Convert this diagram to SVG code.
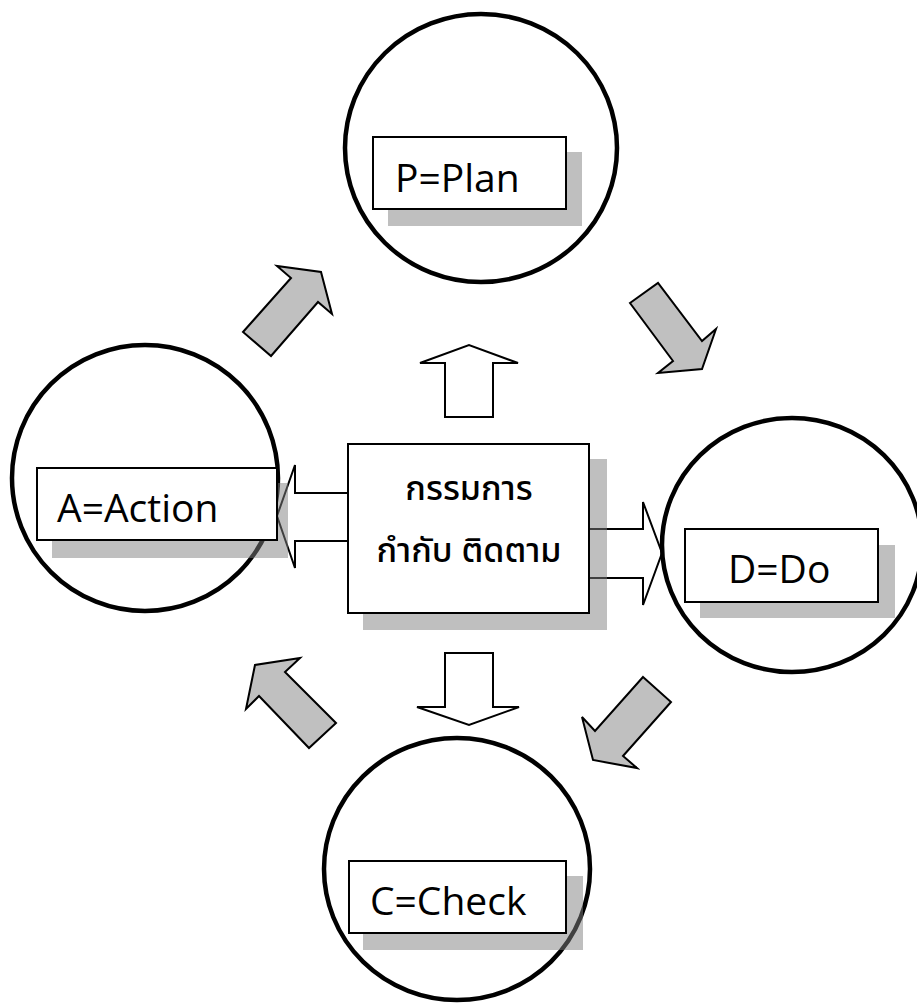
<svg xmlns="http://www.w3.org/2000/svg" width="917" height="1004" viewBox="0 0 917 1004">
<style>
.circ{fill:#fff;stroke:#000;stroke-width:4.5}
.box{fill:#fff;stroke:#000;stroke-width:2}
.shadow{fill:#808080;fill-opacity:0.5}
.lbl{font-family:"Open Sans","Noto Sans",sans-serif;font-size:39px;fill:#000}
.thai{font-family:"Noto Sans Thai","Noto Sans","DejaVu Sans",sans-serif;font-size:34px;font-weight:500;fill:#000;text-anchor:middle}
.garrow{fill:#c0c0c0;stroke:#000;stroke-width:2;stroke-linejoin:miter}
.warrow{fill:#fff;stroke:#000;stroke-width:2}
</style>
<rect width="917" height="1004" fill="#fff"/>
<g id="connectors">
<polygon class="garrow" points="243,332 291,278 277,266 321,272 332,314 318,302 271,356"/>
<polygon class="garrow" points="630,303 658,283 702,341 716,329 702,369 658,373 673,361"/>
<polygon class="garrow" points="643,677 671,702 623,756 637,768 593,760 582,717 595,731"/>
<polygon class="garrow" points="336,723 309,748 259,696 246,709 255,665 300,658 285,672"/>
<polygon class="warrow" points="445,417 445,363 420,363 469,345 518,363 493,363 493,417"/>
<polygon class="warrow" points="445,653 493,653 493,707 519,707 469,725 417,707 445,707"/>
<polygon class="warrow" points="348,493 295,493 295,465 277,516 295,568 295,541 348,541"/>
<polygon class="warrow" points="589,529 643,529 643,502 662,553 643,605 643,578 589,578"/>
</g>
<g id="center">
<rect class="shadow" x="363" y="459" width="244" height="171"/>
<rect class="box" x="348" y="444" width="241" height="169"/>
<text class="thai" x="469" y="500">กรรมการ</text>
<text class="thai" x="469" y="562">กำกับ ติดตาม</text>
</g>
<g id="plan">
<ellipse class="circ" cx="481" cy="148" rx="136" ry="134"/>
<rect class="shadow" x="388" y="152" width="194" height="74"/>
<rect class="box" x="373" y="137" width="193" height="72"/>
<text class="lbl" x="395" y="192">P=Plan</text>
</g>
<g id="do">
<ellipse class="circ" cx="792" cy="545" rx="130" ry="127"/>
<rect class="shadow" x="700" y="545" width="195" height="73"/>
<rect class="box" x="685" y="529" width="193" height="73"/>
<text class="lbl" x="728" y="583">D=Do</text>
</g>
<g id="check">
<ellipse class="circ" cx="457" cy="869" rx="133" ry="131"/>
<rect class="shadow" x="363" y="876" width="220" height="74"/>
<rect class="box" x="349" y="861" width="217" height="72"/>
<text class="lbl" x="370" y="915">C=Check</text>
</g>
<g id="action">
<ellipse class="circ" cx="145" cy="478" rx="133" ry="133"/>
<rect class="shadow" x="52" y="483" width="236" height="75"/>
<rect class="box" x="37" y="468" width="240" height="72"/>
<text class="lbl" x="57" y="522">A=Action</text>
</g>
</svg>
